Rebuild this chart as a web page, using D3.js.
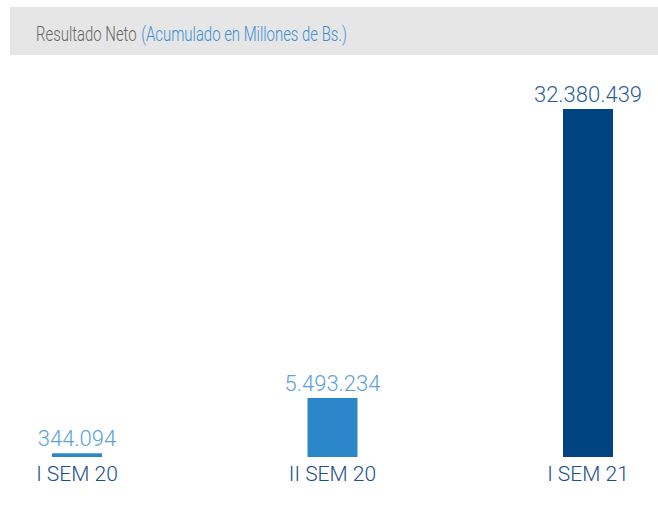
<!DOCTYPE html>
<meta charset="utf-8">
<style>
  body { margin: 0; background: #fff; }
  text { font-family: Roboto, "Open Sans", sans-serif; }
</style>
<body>
<div id="chart"></div>
<script src="https://d3js.org/d3.v7.min.js"></script>
<script>
  // datos
  var categorias = ["I SEM 20", "II SEM 20", "I SEM 21"];
  var valores = [344094, 5493234, 32380439];
  var etiquetas = ["344.094", "5.493.234", "32.380.439"];

  var width = 658, height = 505;

  var colorBarra = ["#2b87c8", "#2b87c8", "#004481"];
  var colorValor = ["#5ba2dc", "#5ba2dc", "#2c5d98"];

  var svg = d3.select("#chart")
    .append("svg")
    .attr("width", width)
    .attr("height", height);

  // cabecera gris
  svg.append("rect")
    .attr("x", 10).attr("y", 7)
    .attr("width", width - 10).attr("height", 48)
    .attr("fill", "#e6e6e6");

  // titulo: la fuente original es estrecha, se comprime en horizontal
  var cab = svg.append("g");
  var t1 = cab.append("text")
    .attr("x", 0).attr("y", 0)
    .style("font-size", "20px")
    .style("font-weight", 300)
    .attr("fill", "#666666")
    .text("Resultado Neto");
  var w1 = t1.node().getComputedTextLength();
  var t2 = cab.append("text")
    .attr("x", w1 + 6).attr("y", 0)
    .style("font-size", "20px")
    .style("font-weight", 300)
    .attr("fill", "#3b8fd4")
    .text("(Acumulado en Millones de Bs.)");
  var wTot = w1 + 6 + t2.node().getComputedTextLength();
  cab.attr("transform", "translate(36,41) scale(" + (311 / wTot) + ",1)");

  var x = d3.scalePoint()
    .domain(categorias)
    .range([77, 588]);

  var y = d3.scaleLinear()
    .domain([0, d3.max(valores)])
    .range([457, 109]);

  var barW = 50;

  svg.selectAll("rect.barra")
    .data(valores)
    .enter()
    .append("rect")
    .attr("class", "barra")
    .attr("x", function (d, i) { return x(categorias[i]) - barW / 2; })
    .attr("y", function (d) { return y(d); })
    .attr("width", barW)
    .attr("height", function (d) { return y(0) - y(d); })
    .attr("fill", function (d, i) { return colorBarra[i]; });

  svg.selectAll("text.valor")
    .data(valores)
    .enter()
    .append("text")
    .attr("class", "valor")
    .attr("x", function (d, i) { return x(categorias[i]); })
    .attr("y", function (d) { return y(d) - 7; })
    .attr("text-anchor", "middle")
    .style("font-size", "22px")
    .style("font-weight", 300)
    .attr("fill", function (d, i) { return colorValor[i]; })
    .text(function (d, i) { return etiquetas[i]; });

  svg.selectAll("text.cat")
    .data(categorias)
    .enter()
    .append("text")
    .attr("class", "cat")
    .attr("x", function (d) { return x(d); })
    .attr("y", 481)
    .attr("text-anchor", "middle")
    .style("font-size", "21px")
    .style("font-weight", 300)
    .attr("fill", "#1d4f8c")
    .text(function (d) { return d; });
</script>
</body>
